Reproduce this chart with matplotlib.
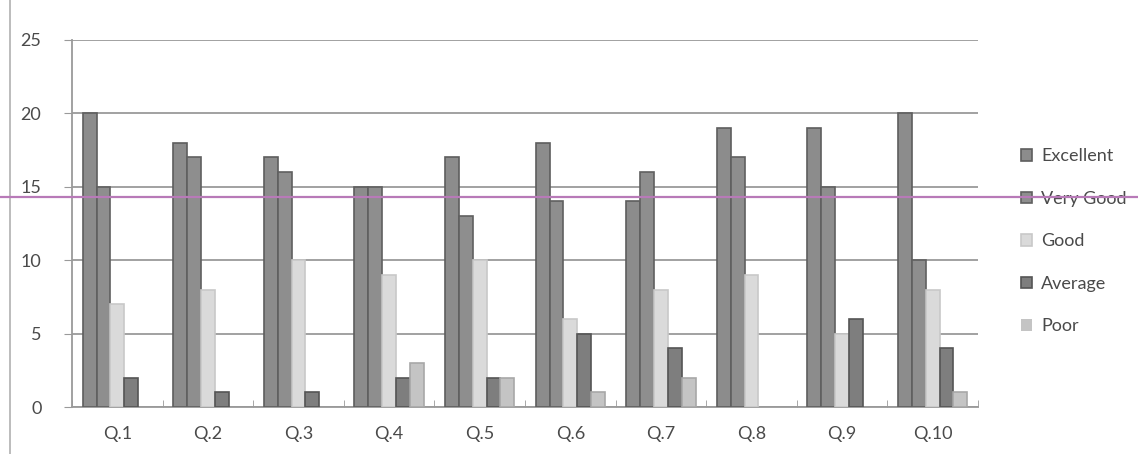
import numpy as np
import matplotlib
matplotlib.use("Agg")
import matplotlib.pyplot as plt
from matplotlib.lines import Line2D

questions = ['Q.1', 'Q.2', 'Q.3', 'Q.4', 'Q.5', 'Q.6', 'Q.7', 'Q.8', 'Q.9', 'Q.10']
excellent = [20, 18, 17, 15, 17, 18, 14, 19, 19, 20]
very_good = [15, 17, 16, 15, 13, 14, 16, 17, 15, 10]
good = [7, 8, 10, 9, 10, 6, 8, 9, 5, 8]
average = [2, 1, 1, 2, 2, 5, 4, 0, 6, 4]
poor = [0, 0, 0, 3, 2, 1, 2, 0, 0, 1]

series = [('Excellent', excellent), ('Very Good', very_good), ('Good', good),
          ('Average', average), ('Poor', poor)]
fills = ['#8c8c8c', '#8e8e8e', '#dadada', '#7e7e7e', '#c4c4c4']
edges = ['#5e5e5e', '#606060', '#c8c8c8', '#555555', '#a8a8a8']

plt.rcParams['font.family'] = ['Lato', 'DejaVu Sans']

fig = plt.figure(figsize=(11.38, 4.54), dpi=100)
ax = fig.add_axes([72 / 1138, 47 / 454, 906 / 1138, 367 / 454])

x = np.arange(len(questions))
w = 0.153
for i, (name, vals) in enumerate(series):
    # no outline for empty bars, so a zero does not show up as a line
    ec = [edges[i] if v > 0 else 'none' for v in vals]
    ax.bar(x + (i - 2) * w, vals, width=w, color=fills[i], edgecolor=ec,
           linewidth=1.2, label=name, zorder=3)

ax.set_xlim(-0.5, len(questions) - 0.5)
ax.set_ylim(0, 25)
ax.set_yticks([0, 5, 10, 15, 20, 25])
ax.yaxis.grid(True, color='#9a9a9a', linewidth=1.3, zorder=0)
ax.set_xticks(x)
ax.set_xticklabels(questions)
ax.set_xticks(np.arange(-0.5, len(questions)), minor=True)
ax.tick_params(axis='x', which='major', length=0, pad=14, labelsize=13, labelcolor='#4a4a4a')
ax.tick_params(axis='x', which='minor', length=5, color='#9a9a9a', direction='in')
ax.tick_params(axis='y', length=6, color='#9a9a9a', pad=16, labelsize=13, labelcolor='#4a4a4a')
for s in ['top', 'right']:
    ax.spines[s].set_visible(False)
for s in ['left', 'bottom']:
    ax.spines[s].set_color('#9a9a9a')
    ax.spines[s].set_linewidth(1.3)

leg = fig.legend(loc='upper left', bbox_to_anchor=(1005 / 1138, 1 - 132 / 454),
                 frameon=False, fontsize=13, handlelength=0.6, handleheight=0.6,
                 handletextpad=0.5, labelspacing=1.47)
for t in leg.get_texts():
    t.set_color('#4a4a4a')

# scan artefacts: pink rule across the page and the left border
fig.add_artist(Line2D([0, 1], [1 - 197 / 454] * 2, color='#b87ab8', linewidth=1.6,
                      transform=fig.transFigure, zorder=10))
fig.add_artist(Line2D([10 / 1138] * 2, [0, 1], color='#b0b0b0', linewidth=1.2,
                      transform=fig.transFigure))

fig.savefig('out.png', dpi=100)
